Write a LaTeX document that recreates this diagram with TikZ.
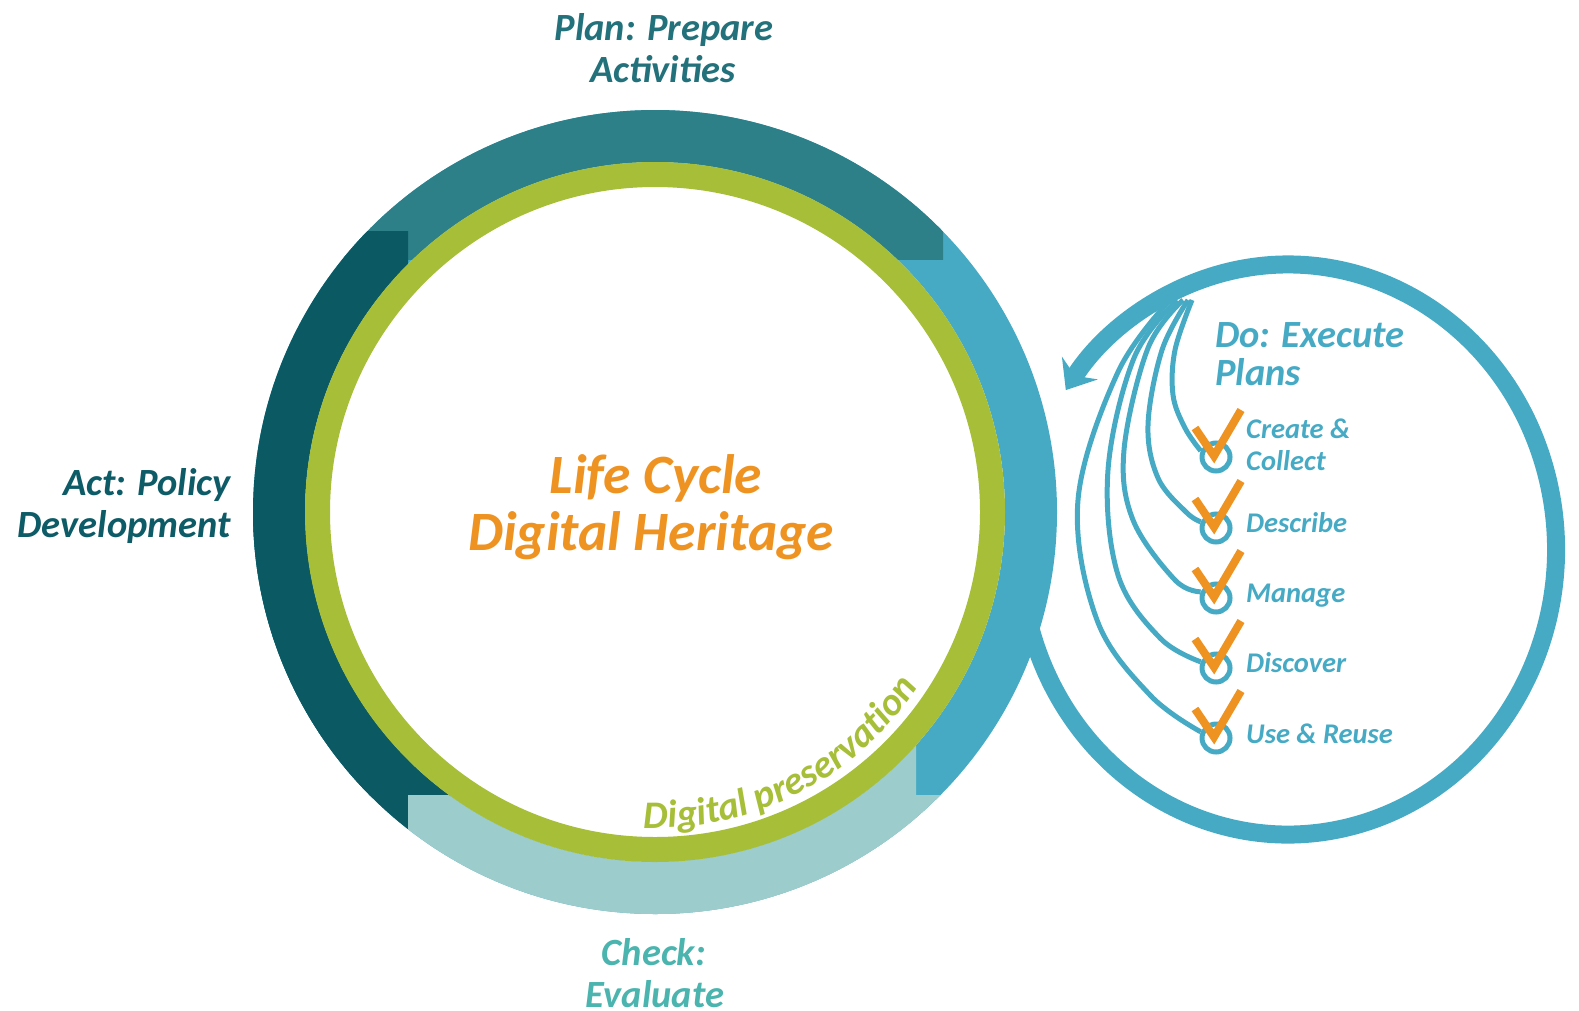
\documentclass[tikz,border=0pt]{standalone}
\usepackage{fontspec}
\setmainfont{Carlito}
\usetikzlibrary{arrows.meta,decorations.text}
\definecolor{planteal}{HTML}{2E8088}
\definecolor{actdark}{HTML}{0B5A63}
\definecolor{doblue}{HTML}{46AAC5}
\definecolor{checklight}{HTML}{9CCDCC}
\definecolor{ringgreen}{HTML}{A7BE38}
\definecolor{lcorange}{HTML}{EE9322}
\definecolor{plantext}{HTML}{22717B}
\definecolor{acttext}{HTML}{0D5B66}
\definecolor{checktext}{HTML}{4BB4AE}
\tikzset{
  lbl/.style={font=\fontsize{38.5}{42}\selectfont\bfseries\itshape, inner sep=0pt},
  item/.style={font=\fontsize{28.5}{32}\selectfont\bfseries\itshape, inner sep=0pt, text=doblue, anchor=base west},
  title/.style={font=\fontsize{55.5}{58}\selectfont\bfseries\itshape, inner sep=0pt, text=lcorange, anchor=base},
  itemcirc/.style={circle, draw=doblue, line width=5pt, minimum size=28pt, inner sep=0pt},
  branch/.style={draw=doblue, line width=5pt},
  tick/.style={draw=lcorange, line width=8pt, miter limit=10},
  band/.style={line width=52pt},
}
\begin{document}
\begin{tikzpicture}[x=1pt,y=-1pt]
\useasboundingbox (0,0) rectangle (1579,1010);
\coordinate (o) at (655,512);
\coordinate (doc) at (1288,549.5);

% Do loop with arrow
\draw[doblue, line width=18pt, -{Stealth[length=26pt,width=42pt,inset=9pt]}]
  (doc) ++(165:268 and 285) arc[start angle=165, end angle=-146, x radius=268, y radius=285];

% big ring: base blue
\draw[doblue, band] (o) circle[radius=376];
\begin{scope}
  \clip (0,0) rectangle (943,259);
  \draw[planteal, band] (o) circle[radius=376];
\end{scope}
\begin{scope}
  \clip (0,231) rectangle (408,1010);
  \draw[actdark, band] (o) circle[radius=376];
\end{scope}
\begin{scope}
  \clip (0,512) rectangle (655,795);
  \draw[actdark, band] (o) circle[radius=376];
\end{scope}
\begin{scope}
  \clip (408,795) rectangle (1579,1010);
  \draw[checklight, band] (o) circle[radius=376];
\end{scope}
\begin{scope}
  \clip (655,512) rectangle (916,1010);
  \draw[checklight, band] (o) circle[radius=376];
\end{scope}
\draw[ringgreen, line width=25pt] (o) circle[radius=337.5];

% Digital preservation
\path[decorate, decoration={text along path,
   text={|\color{ringgreen}\fontsize{39}{42}\selectfont\bfseries\itshape|Digital preservation}}]
  (o) ++(92:316) arc[start angle=92, end angle=25, radius=316];

% labels
\node[lbl, text=plantext, anchor=base] (plan1) at (664,40) {Plan: Prepare};
\node[lbl, text=plantext, anchor=base] (plan2) at (663,82) {Activities};
\node[lbl, text=acttext, anchor=base east] (act1) at (231,495) {Act: Policy};
\node[lbl, text=acttext, anchor=base east] (act2) at (231,537) {Development};
\node[lbl, text=checktext, anchor=base] (chk1) at (654,965) {Check:};
\node[lbl, text=checktext, anchor=base] (chk2) at (655,1007) {Evaluate};
\node[lbl, text=doblue, anchor=base west] (do1) at (1215,347) {Do: Execute};
\node[lbl, text=doblue, anchor=base west] (do2) at (1215,385) {Plans};
\node[title] (lc1) at (656,493) {Life Cycle};
\node[title] (lc2) at (651,550) {Digital Heritage};

% item circles
\node[itemcirc] (c1) at (1216,457) {};
\node[itemcirc] (c2) at (1216,528) {};
\node[itemcirc] (c3) at (1216,598) {};
\node[itemcirc] (c4) at (1216,668) {};
\node[itemcirc] (c5) at (1216,738) {};

% branches from the arrow
\draw[branch] plot[smooth, tension=0.6] coordinates {(1192,300) (1175,350) (1173,395) (1185,428) (c1.158)};
\draw[branch] plot[smooth, tension=0.6] coordinates {(1188,300) (1162,350) (1148,425) (1158,478) (1186,512) (c2.158)};
\draw[branch] plot[smooth, tension=0.6] coordinates {(1183,300) (1148,348) (1124,450) (1133,520) (1175,580) (c3.158)};
\draw[branch] plot[smooth, tension=0.6] coordinates {(1177,300) (1134,358) (1108,470) (1118,575) (1160,638) (c4.158)};
\draw[branch] plot[smooth, tension=0.6] coordinates {(1170,300) (1118,372) (1078,500) (1097,620) (1150,695) (c5.158)};

% ticks
\foreach \c in {c1,c2,c3,c4,c5}{
  \draw[tick] (\c.center) ++(-21,-29) -- ++(19,28) -- ++(27,-46);
}

% item texts
\node[item] (t1a) at (1246,438) {Create \&};
\node[item] (t1b) at (1246,470) {Collect};
\node[item] (t2) at (1246,532) {Describe};
\node[item] (t3) at (1246,602) {Manage};
\node[item] (t4) at (1246,672) {Discover};
\node[item] (t5) at (1246,743) {Use \& Reuse};
\end{tikzpicture}
\end{document}
